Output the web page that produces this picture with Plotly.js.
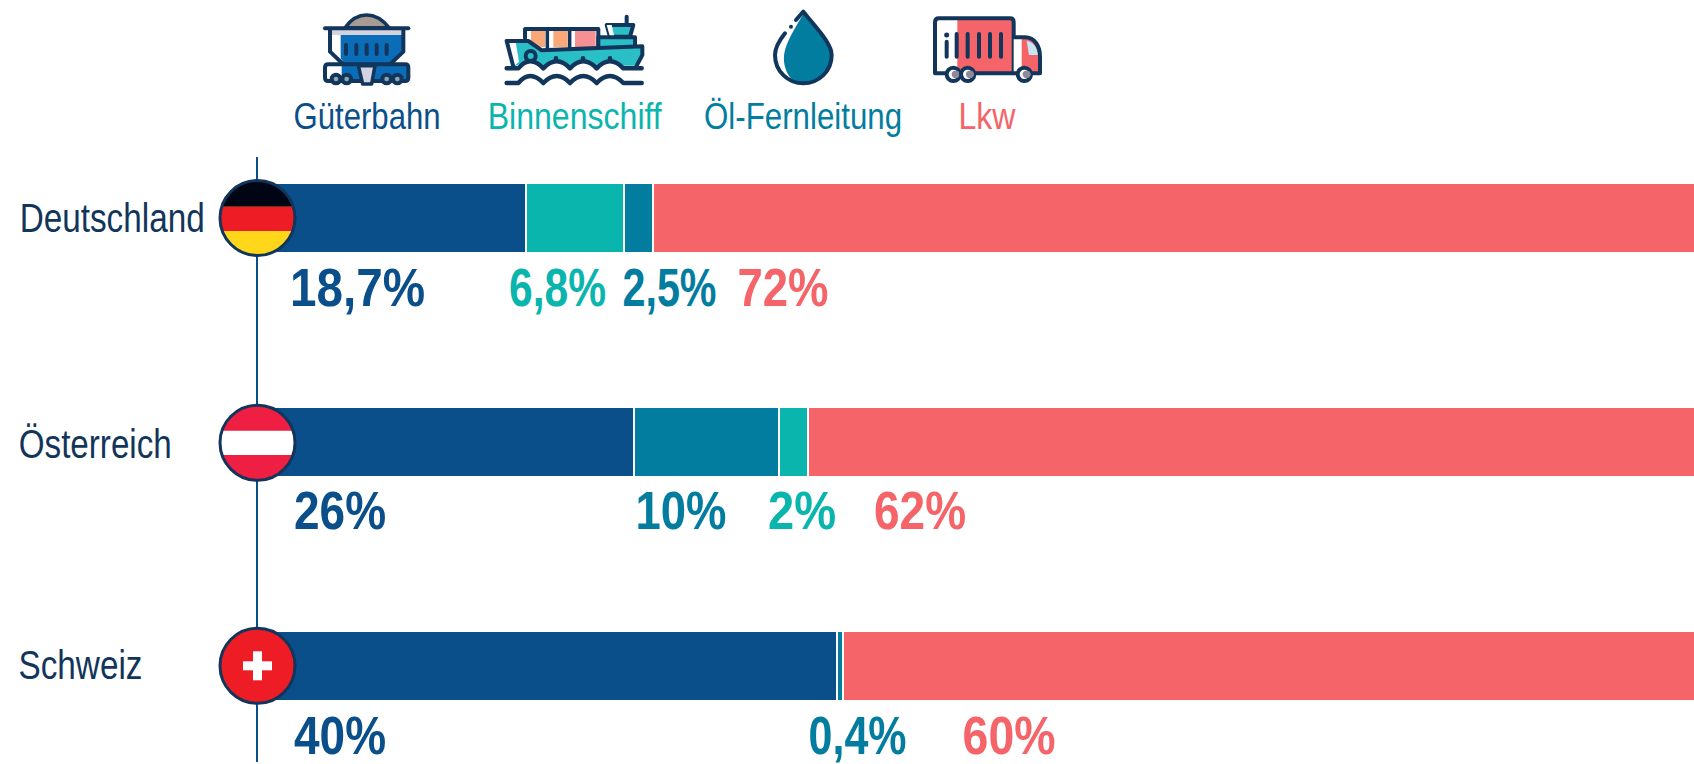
<!DOCTYPE html>
<html><head><meta charset="utf-8">
<script src="https://cdn.plot.ly/plotly-3.0.1.min.js"></script>
<style>html,body{margin:0;padding:0;background:#fff;overflow:hidden}
.shapelayer path{stroke-linecap:round;stroke-linejoin:round}</style>
</head><body><div id="chart" style="width:1694px;height:764px"></div>
<script>
// ---------- data ----------
const countries = ['Deutschland','Österreich','Schweiz'];
const modes = ['Güterbahn','Binnenschiff','Öl-Fernleitung','Lkw'];
// Bar lengths as measured on the picture (Germany's bars are drawn a little shorter than its printed labels).
const bahn        = [18.5, 26, 40];
const binnenFirst = [6.8, null, null];
const oel         = [2.0, 10, 0.4];
const binnenLast  = [null, 2, null];
const lkw         = [72, 62, 60];
// Printed value labels, row by row
const labelTexts = [['18,7%','6,8%','2,5%','72%'],['26%','10%','2%','62%'],['40%','0,4%','60%']];
const labelModes = [[0,1,2,3],[0,2,1,3],[0,2,3]];

// ---------- style / layout constants ----------
const W=1694,H=764;
const C={bahn:'#0A4F8A',binnen:'#0AB5AE',oel:'#037D9F',lkw:'#F46468',ink:'#12355B'};
const modeColors=[C.bahn,C.binnen,C.oel,C.lkw];
const FONT='"Liberation Sans",Arial,sans-serif';
// Horizontal extents [left,right] in px of each text
const labelExt=[[[290,425],[509,606],[622,716],[737,828]],
                [[294,386],[635,726],[768,836],[874,966]],
                [[294,386],[808,906],[962,1055]]];
const labelY=[287,510,735];
const labelBoxH=56;
const countryExt=[[19,204],[19,172],[18,142]];
const countryY=[218,444,665];
const modeExt=[[293,440],[488,662],[704,902],[959,1016]];
const flagY=[218,442.8,665.8], flagX=257.5, flagR=37.5;

const fx=x=>x/W, fy=y=>1-y/H;
function P(str,ox=0,oy=0,s=1){
  return str.replace(/(-?[\d.]+)[ ,]+(-?[\d.]+)/g,(m,a,b)=>fx(ox+a*s).toFixed(5)+','+fy(oy+b*s).toFixed(5));
}
const shapes=[];
function add(path,fill,lineColor,lw){
  shapes.push({type:'path',xref:'paper',yref:'paper',layer:'above',path,
    fillcolor:fill||'rgba(0,0,0,0)',line:{color:lineColor||'rgba(0,0,0,0)',width:lw||0}});
}
function circ(cx,cy,r){const k=0.5523*r;
  return `M ${cx+r} ${cy} C ${cx+r} ${cy+k} ${cx+k} ${cy+r} ${cx} ${cy+r} C ${cx-k} ${cy+r} ${cx-r} ${cy+k} ${cx-r} ${cy} C ${cx-r} ${cy-k} ${cx-k} ${cy-r} ${cx} ${cy-r} C ${cx+k} ${cy-r} ${cx+r} ${cy-k} ${cx+r} ${cy} Z`;}
function stripe(cx,cy,r,y1,y2){
  const right=[],left=[];
  for(let i=0;i<=16;i++){const y=y1+(y2-y1)*i/16;
    const d=Math.sqrt(Math.max(0,r*r-(y-cy)*(y-cy)));
    right.push((cx+d)+' '+y);left.unshift((cx-d)+' '+y);}
  return 'M '+right.concat(left).join(' L ')+' Z';
}
function rect(a,b,c,d){return `M ${a} ${b} L ${c} ${b} L ${c} ${d} L ${a} ${d} Z`;}

// ---------- flags ----------
const r=flagR;
add(P(circ(flagX,flagY[0],r)),'#FFD71A');
add(P(stripe(flagX,flagY[0],r,flagY[0]-r,206.7)),'#000514');
add(P(stripe(flagX,flagY[0],r,206.7,231)),'#EE1C25');
add(P(circ(flagX,flagY[0],r)),null,C.ink,3);
add(P(circ(flagX,flagY[1],r)),'#EE1F43');
add(P(stripe(flagX,flagY[1],r,430.7,455)),'#FFFFFF');
add(P(circ(flagX,flagY[1],r)),null,C.ink,3);
add(P(circ(flagX,flagY[2],r)),'#EE1C25');
add(P(rect(flagX-14.5,flagY[2]-4.5,flagX+14.5,flagY[2]+4.5)),'#FFFFFF');
add(P(rect(flagX-4.5,flagY[2]-14.5,flagX+4.5,flagY[2]+14.5)),'#FFFFFF');
add(P(circ(flagX,flagY[2],r)),null,C.ink,3);

// ---------- icons (coordinates in 3x crop units) ----------
const k=1/3, D=C.ink;
function ic(ox,oy){return (s,f,l,w)=>add(P(s,ox,oy,k),f,l,w);}
// wagon
let a=ic(310,5);
a('M 105 68 C 125 40 150 30 170 30 C 190 30 215 40 237 68 Z','#A89C92',D,3.5);
a(rect(60,75,280,92),'#D3D3E0');
a('M 60 90 L 280 90 L 280 140 L 240 178 L 100 178 L 60 140 Z','#FFFFFF');
a('M 92 90 L 280 90 L 280 140 L 240 178 L 105 178 L 92 160 Z','#0B6CB8');
a('M 60 72 L 60 140 L 100 178','',D,4);
a('M 280 72 L 280 140 L 240 178','',D,4);
a('M 45 70 L 295 70','',D,4);
[108,139,170,200,230].forEach(x=>a(`M ${x} 120 L ${x} 147`,'',D,4));
a('M 55 178 L 285 178 Q 295 178 295 188 L 295 218 Q 295 228 285 228 L 55 228 Q 45 228 45 218 L 45 188 Q 45 178 55 178 Z','#0B6CB8');
a(rect(50,182,95,226),'#FFFFFF');
a('M 55 178 L 285 178 Q 295 178 295 188 L 295 218 Q 295 228 285 228 L 55 228 Q 45 228 45 218 L 45 188 Q 45 178 55 178 Z','',D,4);
a('M 145 182 L 195 182 L 185 237 L 158 237 Z','#D3D3E0',D,3.5);
[78,110,230,262].forEach(x=>a(circ(x,222,13),'#8FA6AE',D,4));

// ship
a=ic(495,5);
a('M 395 35 L 395 60','',D,4);
a('M 335 60 L 415 60 L 405 95 L 345 95 Z','#2ABFC6',D,4);
a('M 335 60 L 350 60 L 358 95 L 345 95 Z','#FFFFFF');
a(rect(90,72,310,128),'#FFFFFF');
a(rect(108,78,150,126),'#FBA878');
a(rect(175,78,218,126),'#FBA878');
a(rect(240,78,302,126),'#F69092');
a('M 90 100 L 90 72 L 310 72 L 310 128','',D,4);
a('M 157 72 L 157 128','',D,3.5);
a('M 224 72 L 224 128','',D,3.5);
a(rect(310,97,420,130),'#2ABFC6',D,4);
a('M 35 108 L 100 108 L 140 136 L 442 124 L 442 150 L 425 182 L 385 182 L 345 165 L 305 182 L 265 165 L 225 182 L 185 165 L 145 182 L 105 165 L 55 185 Z','#2ABFC6');
a('M 42 112 L 62 112 L 72 170 L 55 185 Z','#FFFFFF');
a('M 55 185 L 35 108 L 100 108 L 140 136 L 442 124 L 442 150 L 425 182','',D,4);
a(circ(107,153,15),'#2ABFC6',D,4);
[183,264,345].forEach(x=>a(circ(x,160,4),D,D,2));
const wave=y=>`M 35 ${y} L 70 ${y} Q 105 ${y-42} 145 ${y} Q 185 ${y-42} 225 ${y} Q 265 ${y-42} 305 ${y} Q 345 ${y-42} 385 ${y} L 440 ${y}`;
a(wave(190),'',D,4.5);
a(wave(234),'',D,4.5);

// drop
a=ic(760,5);
a('M 130 28 C 170 75 212 115 212 150 C 212 200 175 232 130 232 C 100 232 90 220 80 200 C 70 175 68 150 80 120 C 90 95 110 60 130 28 Z',C.oel);
a('M 75 85 C 55 110 45 130 45 150 C 45 200 85 235 130 235 C 175 235 215 200 215 150 C 215 115 170 70 130 20 L 108 45','',D,4);
a(circ(93,65,3),D,D,2);

// truck
a=ic(925,5);
a(rect(35,45,260,205),'#FFFFFF');
a(rect(97,45,262,205),C.lkw);
a('M 42 40 L 255 40 Q 266 40 266 52 L 266 205 L 30 205 L 30 52 Q 30 40 42 40 Z','',D,4);
[95,128,162,195,228].forEach(x=>a(`M ${x} 87 L ${x} 155`,'',D,4));
a('M 65 110 L 65 155','',D,4);
a(circ(65,90,3),D,D,3);
a('M 266 97 L 300 97 C 330 97 345 125 345 155 L 345 205 L 266 205 Z','#FFFFFF');
a('M 290 100 L 300 100 C 330 100 342 125 342 155 L 342 205 L 290 205 Z',C.lkw);
a('M 305 107 C 325 110 338 130 340 150 L 312 150 Z','#C5E6F2');
a('M 266 97 L 300 97 C 330 97 345 125 345 155 L 345 205 L 266 205','',D,4);
[85,128,298].forEach(x=>{a(circ(x,208,20),'#FFFFFF',D,4);a(stripe(x+7,208,12,197,219),'#8E8A99');});

// ---------- annotations ----------
const ann=[], annWidths=[];
const txt=(ext,y,t,size,color,weight,boxH)=>{
  const o={xref:'paper',yref:'paper',x:fx((ext[0]+ext[1])/2),y:fy(y),text:t,showarrow:false,
    xanchor:'center',yanchor:'middle',font:{family:FONT,size,color,weight:weight||400}};
  if(boxH)o.height=boxH;
  ann.push(o);
  annWidths.push(ext[1]-ext[0]);
};
countries.forEach((c,i)=>txt(countryExt[i],countryY[i],c,40,C.ink));
modes.forEach((m,i)=>txt(modeExt[i],116,m,36,modeColors[i]));
labelTexts.forEach((row,i)=>row.forEach((t,j)=>txt(labelExt[i][j],labelY[i],t,54,modeColors[labelModes[i][j]],700,labelBoxH)));

// ---------- traces ----------
const bar=(name,x,color)=>({type:'bar',orientation:'h',name,y:countries,x,
  marker:{color,line:{color:'#FFFFFF',width:2}},hoverinfo:'skip',showlegend:false});
const traces=[
  bar(modes[0],bahn,C.bahn),
  bar(modes[1],binnenFirst,C.binnen),
  bar(modes[2],oel,C.oel),
  bar(modes[1],binnenLast,C.binnen),
  bar(modes[3],lkw,C.lkw)
];
Plotly.newPlot('chart',traces,{
  width:W,height:H,margin:{l:0,r:0,t:0,b:0},paper_bgcolor:'#fff',plot_bgcolor:'#fff',
  barmode:'stack',bargap:0.687,showlegend:false,
  xaxis:{domain:[258/W,1],range:[0,99.24],autorange:false,showgrid:false,zeroline:false,showline:false,showticklabels:false,ticks:''},
  yaxis:{domain:[(H-762)/H,(H-157)/H],type:'category',categoryorder:'array',categoryarray:countries,
    range:[2.43,-0.274],autorange:false,showgrid:false,zeroline:false,showline:true,linecolor:C.bahn,linewidth:1.5,showticklabels:false,ticks:''},
  shapes,annotations:ann
},{displayModeBar:false,responsive:false}).then(gd=>{
  // The reference uses a condensed typeface: squeeze each real text to its measured width.
  gd.querySelectorAll('.annotation').forEach(g=>{
    const i=+g.getAttribute('data-index'), t=g.querySelector('.annotation-text');
    if(t){t.setAttribute('textLength',annWidths[i]);t.setAttribute('lengthAdjust','spacingAndGlyphs');}
  });
});
</script></body></html>
